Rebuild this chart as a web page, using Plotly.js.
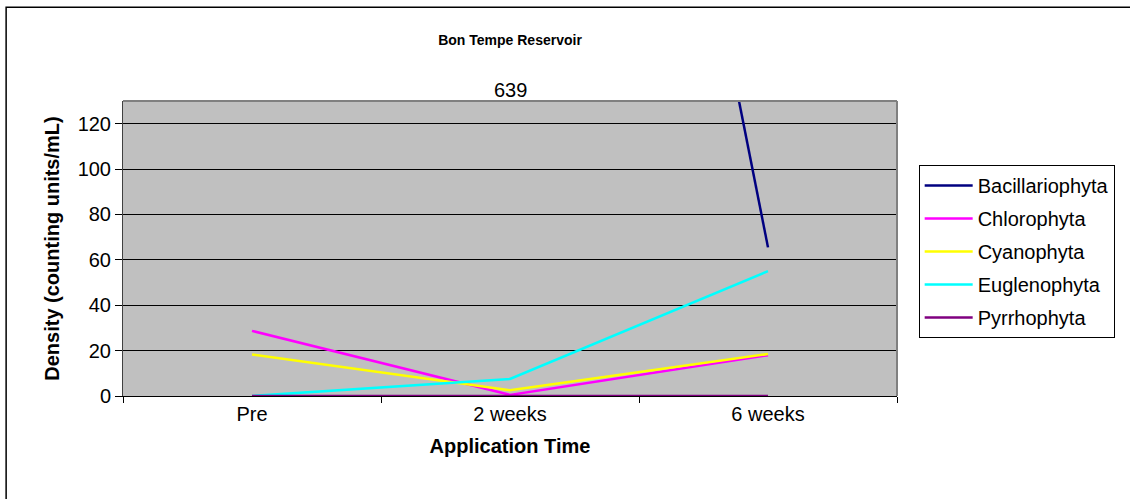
<!DOCTYPE html>
<html>
<head>
<meta charset="utf-8">
<script src="https://cdn.plot.ly/plotly-3.0.1.min.js"></script>
<style>html,body{margin:0;padding:0;background:#fff;}#chart{width:1130px;height:499px;}</style>
</head>
<body>
<div id="chart"></div>
<script>
const categories = ["Pre", "2 weeks", "6 weeks"];
const seriesNames = ["Bacillariophyta", "Chlorophyta", "Cyanophyta", "Euglenophyta", "Pyrrhophyta"];
const bacillariophyta = [null, 639, 65.5];
const chlorophyta = [28.7, 0.5, 18];
const cyanophyta = [18.3, 2.5, 18.5];
const euglenophyta = [0, 7.5, 55];
const pyrrhophyta = [0, 0, 0];
const seriesColors = ["#000080", "#FF00FF", "#FFFF00", "#00FFFF", "#800080"];
const yTickVals = [0, 20, 40, 60, 80, 100, 120];

const values = [bacillariophyta, chlorophyta, cyanophyta, euglenophyta, pyrrhophyta];
const traces = values.map((v, i) => ({
  type: "scatter", mode: "lines", x: categories, y: v, name: seriesNames[i],
  legendgroup: "g" + i, connectgaps: false,
  line: {color: seriesColors[i], width: 2.5}
}));

const font = "Liberation Sans, Arial, sans-serif";
const layout = {
  width: 1130, height: 499,
  margin: {l: 123, r: 233, t: 101, b: 103},
  paper_bgcolor: "#ffffff", plot_bgcolor: "#C0C0C0",
  font: {family: font, size: 20, color: "#000"},
  title: {text: "<b>Bon Tempe Reservoir</b>", font: {family: font, size: 14, color: "#000"},
          x: 0.5, xref: "paper", xanchor: "center", y: 0.92, yref: "container", yanchor: "middle"},
  xaxis: {
    type: "category", range: [-0.5, 2.5], tickson: "boundaries",
    ticks: "outside", ticklen: 6, tickcolor: "#000", tickwidth: 1,
    showline: true, linecolor: "#000", linewidth: 1, showgrid: false, zeroline: false,
    tickfont: {family: font, size: 20}, fixedrange: true,
    title: {text: "<b>Application Time</b>", font: {family: font, size: 20}, standoff: 14}
  },
  yaxis: {
    range: [0, 130], tickvals: yTickVals, ticks: "outside", ticklen: 7, tickcolor: "#000",
    showline: true, linecolor: "#404040", linewidth: 1,
    showgrid: true, gridcolor: "#000", gridwidth: 1, zeroline: false,
    tickfont: {family: font, size: 20}, fixedrange: true,
    title: {text: "<b>Density (counting units/mL)</b>", font: {family: font, size: 20}, standoff: 12}
  },
  legend: {
    x: 1.028, xanchor: "left", y: 0.783, yanchor: "top",
    bordercolor: "#000", borderwidth: 1, bgcolor: "#fff",
    font: {family: font, size: 20}, tracegroupgap: 4, itemwidth: 48
  },
  showlegend: true,
  annotations: [{
    x: "2 weeks", y: 130, xref: "x", yref: "y", text: "639", showarrow: false,
    yanchor: "bottom", font: {family: font, size: 20, color: "#000"}, yshift: -2
  }],
  shapes: [
    {type: "line", xref: "paper", yref: "paper", x0: 0, x1: 1, y0: 1, y1: 1, line: {color: "#808080", width: 2}},
    {type: "line", xref: "paper", yref: "paper", x0: 1, x1: 1, y0: 0, y1: 1, line: {color: "#808080", width: 2}},
    {type: "rect", xref: "paper", yref: "paper", x0: -0.151, x1: 1.31, y0: -0.4, y1: 1.318,
     line: {color: "#000", width: 1.5}, layer: "below"}
  ]
};
Plotly.newPlot("chart", traces, layout, {displayModeBar: false, staticPlot: true});
</script>
</body>
</html>
